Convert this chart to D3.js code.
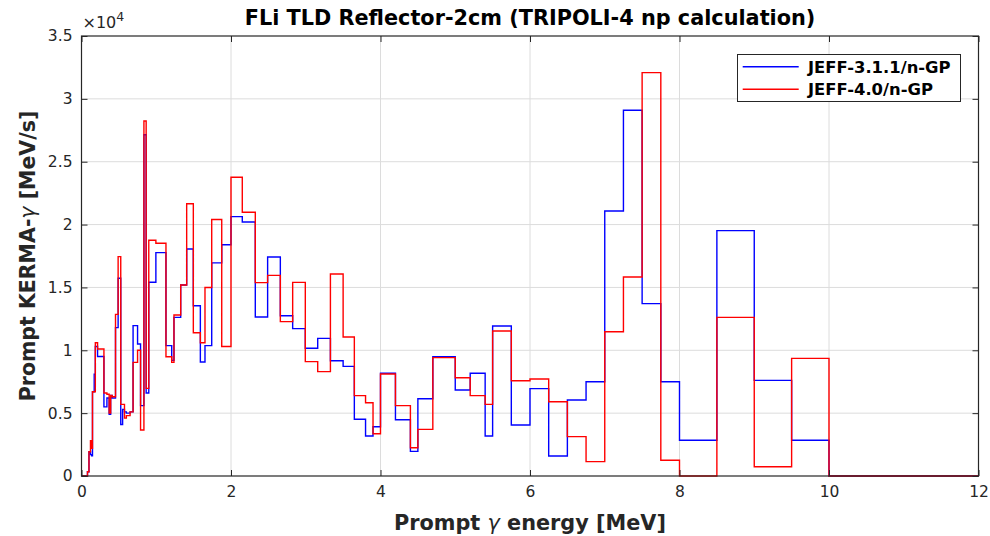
<!DOCTYPE html>
<html>
<head>
<meta charset="utf-8">
<script src="https://cdn.jsdelivr.net/npm/d3@7/dist/d3.min.js"></script>
<style>
  html, body { margin: 0; padding: 0; background: #fff; }
  svg { display: block; font-family: "DejaVu Sans", sans-serif; }
</style>
</head>
<body>
<svg id="chart" width="990" height="536"></svg>
<script>
// Energy bin edges [MeV] (last entry closes the final bin)
const binEdges = [
  0.00, 0.08, 0.10, 0.12, 0.135, 0.147, 0.17, 0.185, 0.215, 0.30,
  0.34, 0.37, 0.39, 0.41, 0.455, 0.49, 0.525, 0.55, 0.575, 0.60,
  0.65, 0.69, 0.75, 0.79, 0.835, 0.865, 0.90, 0.995, 1.13, 1.207,
  1.237, 1.327, 1.407, 1.496, 1.59, 1.652, 1.742, 1.876, 2.0, 2.151,
  2.325, 2.49, 2.66, 2.825, 2.994, 3.16, 3.33, 3.5, 3.65, 3.8,
  3.9, 4.0, 4.2, 4.4, 4.5, 4.7, 5.0, 5.2, 5.4, 5.5,
  5.75, 6.0, 6.25, 6.5, 6.75, 7.0, 7.25, 7.5, 7.75, 8.0,
  8.5, 9.0, 9.5, 10.0, 12.0
];

// Prompt KERMA-gamma per bin [MeV/s], JEFF-3.1.1/n-GP
const kermaJeff311 = [
  0, 340, 1930, 1700, 1600, 6700, 8100, 10300, 9500,
  5500, 6200, 4900, 6400, 6200, 11800, 15730, 4100, 5300, 5100,
  5000, 5100, 11960, 10500, 5600, 27150, 6600, 15410, 17770, 10370,
  9200, 12620, 15190, 18060, 13540, 9070, 10370, 16950, 18400, 20630,
  20210, 12650, 17420, 12750, 11720, 10160, 10950, 9170, 8720, 4510,
  3180, 3920, 8170, 4480, 1960, 6150, 9480, 6840, 8170, 3180,
  11930, 4060, 6950, 1590, 6050, 7500, 21080, 29090, 13710, 7500,
  2840, 19520, 7610, 2840, 0
];

// Prompt KERMA-gamma per bin [MeV/s], JEFF-4.0/n-GP
const kermaJeff40 = [
  0, 340, 1930, 2800, 2200, 6700, 6700, 10600, 10100,
  6600, 6500, 5000, 6400, 6300, 12860, 17450, 5700, 5700, 4600,
  4800, 5100, 9040, 10000, 3660, 28240, 6970, 18750, 18510, 9490,
  9040, 12810, 15190, 21660, 11400, 10600, 15000, 20400, 10300, 23760,
  20980, 15380, 15960, 12280, 15400, 9100, 8300, 16070, 11060, 6390,
  5830, 3360, 8110, 5600, 2250, 3710, 9420, 7820, 6390, 5700,
  11530, 7580, 7720, 5910, 3130, 1140, 11480, 15830, 32090, 1250,
  0, 12620, 740, 9360, 0
];

const seriesNames = ["JEFF-3.1.1/n-GP", "JEFF-4.0/n-GP"];
const seriesColors = ["#0000ff", "#ff0000"];
const xTicks = [0, 2, 4, 6, 8, 10, 12];
const yTicks = [0, 5000, 10000, 15000, 20000, 25000, 30000, 35000];

const svg = d3.select("#chart");
const plot = { left: 81.5, right: 978.5, top: 36, bottom: 476 };

const x = d3.scaleLinear().domain([0, 12]).range([plot.left, plot.right]);
const y = d3.scaleLinear().domain([0, 35000]).range([plot.bottom, plot.top]);

const axisColor = "#262626";
const gridColor = "#dcdcdc";

// grid
const grid = svg.append("g");
grid.selectAll("line.gx").data(xTicks.slice(1, -1)).join("line")
  .attr("x1", d => x(d)).attr("x2", d => x(d))
  .attr("y1", plot.top).attr("y2", plot.bottom)
  .attr("stroke", gridColor).attr("stroke-width", 1);
grid.selectAll("line.gy").data(yTicks.slice(1, -1)).join("line")
  .attr("x1", plot.left).attr("x2", plot.right)
  .attr("y1", d => y(d)).attr("y2", d => y(d))
  .attr("stroke", gridColor).attr("stroke-width", 1);

// step curves
function stepPoints(values) {
  const pts = values.map((v, i) => [binEdges[i], v]);
  pts.push([binEdges[binEdges.length - 1], values[values.length - 1]]);
  return pts;
}
const line = d3.line()
  .x(d => x(d[0])).y(d => y(d[1]))
  .curve(d3.curveStepAfter);

[kermaJeff311, kermaJeff40].forEach((vals, i) => {
  svg.append("path")
    .datum(stepPoints(vals))
    .attr("d", line)
    .attr("fill", "none")
    .attr("stroke", seriesColors[i])
    .attr("stroke-width", 1.4)
    .attr("stroke-linejoin", "miter");
});

// axes (box with inward ticks)
const tickLen = 6;
const xAxisB = d3.axisBottom(x).tickValues(xTicks).tickSize(-tickLen).tickPadding(10).tickFormat(d3.format("d"));
const xAxisT = d3.axisTop(x).tickValues(xTicks).tickSize(-tickLen).tickFormat("");
const yAxisL = d3.axisLeft(y).tickValues(yTicks).tickSize(-tickLen).tickPadding(9).tickFormat(d => d / 1e4);
const yAxisR = d3.axisRight(y).tickValues(yTicks).tickSize(-tickLen).tickFormat("");

function styleAxis(g) {
  g.select(".domain").attr("stroke", axisColor).attr("stroke-width", 1);
  g.selectAll(".tick line").attr("stroke", axisColor).attr("stroke-width", 1);
  g.selectAll(".tick text").attr("fill", axisColor)
    .attr("font-size", "15.5px").attr("font-family", "DejaVu Sans, sans-serif");
}
svg.append("g").attr("transform", `translate(0,${plot.bottom})`).call(xAxisB).call(styleAxis);
svg.append("g").attr("transform", `translate(0,${plot.top})`).call(xAxisT).call(styleAxis);
svg.append("g").attr("transform", `translate(${plot.left},0)`).call(yAxisL).call(styleAxis);
svg.append("g").attr("transform", `translate(${plot.right},0)`).call(yAxisR).call(styleAxis);
svg.selectAll(".domain").attr("d", null);
svg.append("rect")
  .attr("x", plot.left).attr("y", plot.top)
  .attr("width", plot.right - plot.left).attr("height", plot.bottom - plot.top)
  .attr("fill", "none").attr("stroke", axisColor).attr("stroke-width", 1.2);

// exponent marker
const expo = svg.append("text")
  .attr("x", plot.left + 1).attr("y", 28)
  .attr("fill", axisColor).attr("font-size", "16px");
expo.append("tspan").text("\u00d710");
expo.append("tspan").attr("dy", -7).attr("font-size", "12.5px").text("4");

// title
svg.append("text")
  .attr("x", (plot.left + plot.right) / 2).attr("y", 25)
  .attr("text-anchor", "middle").attr("font-weight", "bold")
  .attr("font-size", "20.8px").attr("fill", "#000")
  .text("FLi TLD Reflector-2cm (TRIPOLI-4 np calculation)");

// axis labels
const xl = svg.append("text")
  .attr("x", (plot.left + plot.right) / 2).attr("y", 530)
  .attr("text-anchor", "middle").attr("font-weight", "bold")
  .attr("font-size", "20.8px").attr("fill", axisColor);
xl.append("tspan").text("Prompt ");
xl.append("tspan").attr("font-weight", "normal").attr("font-style", "italic").text("\u03b3");
xl.append("tspan").text(" energy [MeV]");

const yl = svg.append("text")
  .attr("transform", `translate(35,${(plot.top + plot.bottom) / 2}) rotate(-90)`)
  .attr("text-anchor", "middle").attr("font-weight", "bold")
  .attr("font-size", "20.5px").attr("fill", axisColor);
yl.append("tspan").text("Prompt KERMA-");
yl.append("tspan").attr("font-weight", "normal").attr("font-style", "italic").text("\u03b3");
yl.append("tspan").text(" [MeV/s]");

// legend
const lg = svg.append("g");
lg.append("rect")
  .attr("x", 737.5).attr("y", 54.5).attr("width", 223).attr("height", 47)
  .attr("fill", "#fff").attr("stroke", axisColor).attr("stroke-width", 1);
seriesNames.forEach((name, i) => {
  const yy = 66.7 + i * 22.6;
  lg.append("line")
    .attr("x1", 742.7).attr("x2", 798.7).attr("y1", yy).attr("y2", yy)
    .attr("stroke", seriesColors[i]).attr("stroke-width", 1.4);
  lg.append("text")
    .attr("x", 808).attr("y", yy + 6)
    .attr("font-size", "16.4px").attr("font-weight", "bold").attr("fill", "#000")
    .text(name);
});
</script>
</body>
</html>
